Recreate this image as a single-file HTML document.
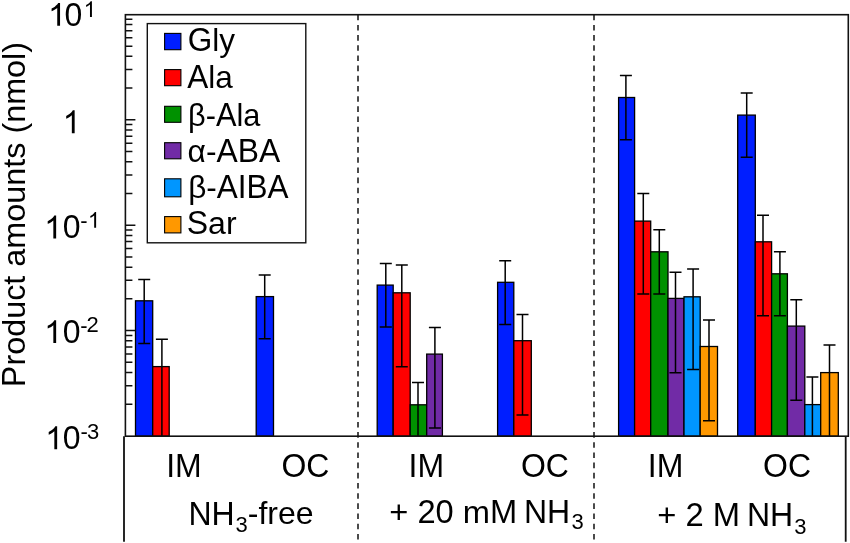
<!DOCTYPE html>
<html><head><meta charset="utf-8"><style>
html,body{margin:0;padding:0;background:#fff;}
body{width:850px;height:543px;overflow:hidden;}
svg{display:block;will-change:transform;}
text{font-family:"Liberation Sans",sans-serif;fill:#000;}
</style></head><body>
<svg width="850" height="543" viewBox="0 0 850 543">
<rect x="135.50" y="300.80" width="17.20" height="135.40" fill="#001eff" stroke="#000" stroke-width="1.3"/>
<rect x="152.70" y="366.60" width="16.50" height="69.60" fill="#ff0000" stroke="#000" stroke-width="1.3"/>
<rect x="256.20" y="296.60" width="17.30" height="139.60" fill="#001eff" stroke="#000" stroke-width="1.3"/>
<rect x="377.20" y="285.10" width="16.00" height="151.10" fill="#001eff" stroke="#000" stroke-width="1.3"/>
<rect x="393.20" y="292.80" width="17.00" height="143.40" fill="#ff0000" stroke="#000" stroke-width="1.3"/>
<rect x="410.20" y="404.80" width="16.50" height="31.40" fill="#009100" stroke="#000" stroke-width="1.3"/>
<rect x="426.70" y="354.10" width="15.70" height="82.10" fill="#712ba6" stroke="#000" stroke-width="1.3"/>
<rect x="497.60" y="282.30" width="16.20" height="153.90" fill="#001eff" stroke="#000" stroke-width="1.3"/>
<rect x="513.80" y="340.70" width="17.50" height="95.50" fill="#ff0000" stroke="#000" stroke-width="1.3"/>
<rect x="618.60" y="97.50" width="16.00" height="338.70" fill="#001eff" stroke="#000" stroke-width="1.3"/>
<rect x="634.60" y="221.10" width="16.10" height="215.10" fill="#ff0000" stroke="#000" stroke-width="1.3"/>
<rect x="650.70" y="251.80" width="17.30" height="184.40" fill="#009100" stroke="#000" stroke-width="1.3"/>
<rect x="668.00" y="298.40" width="16.00" height="137.80" fill="#712ba6" stroke="#000" stroke-width="1.3"/>
<rect x="684.00" y="296.80" width="16.20" height="139.40" fill="#0096ff" stroke="#000" stroke-width="1.3"/>
<rect x="700.20" y="346.50" width="17.30" height="89.70" fill="#ff9800" stroke="#000" stroke-width="1.3"/>
<rect x="737.70" y="115.10" width="17.60" height="321.10" fill="#001eff" stroke="#000" stroke-width="1.3"/>
<rect x="755.30" y="241.80" width="16.30" height="194.40" fill="#ff0000" stroke="#000" stroke-width="1.3"/>
<rect x="771.60" y="273.80" width="15.80" height="162.40" fill="#009100" stroke="#000" stroke-width="1.3"/>
<rect x="787.40" y="326.10" width="17.40" height="110.10" fill="#712ba6" stroke="#000" stroke-width="1.3"/>
<rect x="804.80" y="404.60" width="15.90" height="31.60" fill="#0096ff" stroke="#000" stroke-width="1.3"/>
<rect x="820.70" y="372.60" width="17.60" height="63.60" fill="#ff9800" stroke="#000" stroke-width="1.3"/>
<path d="M144.20 279.40V343.50M138.20 279.40H150.20M138.20 343.50H150.20" stroke="#000" stroke-width="1.5" fill="none"/>
<path d="M161.90 339.20V436.20M155.90 339.20H167.90" stroke="#000" stroke-width="1.5" fill="none"/>
<path d="M264.70 275.00V338.80M258.70 275.00H270.70M258.70 338.80H270.70" stroke="#000" stroke-width="1.5" fill="none"/>
<path d="M385.80 263.50V327.10M379.80 263.50H391.80M379.80 327.10H391.80" stroke="#000" stroke-width="1.5" fill="none"/>
<path d="M401.80 264.90V366.70M395.80 264.90H407.80M395.80 366.70H407.80" stroke="#000" stroke-width="1.5" fill="none"/>
<path d="M418.00 382.60V436.20M412.00 382.60H424.00" stroke="#000" stroke-width="1.5" fill="none"/>
<path d="M434.90 327.40V428.00M428.90 327.40H440.90M428.90 428.00H440.90" stroke="#000" stroke-width="1.5" fill="none"/>
<path d="M505.20 260.70V324.50M499.20 260.70H511.20M499.20 324.50H511.20" stroke="#000" stroke-width="1.5" fill="none"/>
<path d="M522.50 314.40V414.90M516.50 314.40H528.50M516.50 414.90H528.50" stroke="#000" stroke-width="1.5" fill="none"/>
<path d="M625.90 75.60V139.70M619.90 75.60H631.90M619.90 139.70H631.90" stroke="#000" stroke-width="1.5" fill="none"/>
<path d="M643.30 193.60V294.00M637.30 193.60H649.30M637.30 294.00H649.30" stroke="#000" stroke-width="1.5" fill="none"/>
<path d="M659.30 229.70V294.00M653.30 229.70H665.30M653.30 294.00H665.30" stroke="#000" stroke-width="1.5" fill="none"/>
<path d="M675.50 272.20V372.80M669.50 272.20H681.50M669.50 372.80H681.50" stroke="#000" stroke-width="1.5" fill="none"/>
<path d="M693.10 269.10V369.60M687.10 269.10H699.10M687.10 369.60H699.10" stroke="#000" stroke-width="1.5" fill="none"/>
<path d="M709.00 320.10V420.80M703.00 320.10H715.00M703.00 420.80H715.00" stroke="#000" stroke-width="1.5" fill="none"/>
<path d="M746.70 93.10V157.30M740.70 93.10H752.70M740.70 157.30H752.70" stroke="#000" stroke-width="1.5" fill="none"/>
<path d="M763.00 215.20V315.80M757.00 215.20H769.00M757.00 315.80H769.00" stroke="#000" stroke-width="1.5" fill="none"/>
<path d="M779.90 251.80V315.80M773.90 251.80H785.90M773.90 315.80H785.90" stroke="#000" stroke-width="1.5" fill="none"/>
<path d="M796.30 299.70V400.20M790.30 299.70H802.30M790.30 400.20H802.30" stroke="#000" stroke-width="1.5" fill="none"/>
<path d="M812.40 376.90V436.20M806.40 376.90H818.40" stroke="#000" stroke-width="1.5" fill="none"/>
<path d="M829.50 344.90V436.20M823.50 344.90H835.50" stroke="#000" stroke-width="1.5" fill="none"/>
<line x1="358.0" y1="14.7" x2="358.0" y2="540.5" stroke="#111" stroke-width="1.5" stroke-dasharray="5.6 4.58"/>
<line x1="594.0" y1="14.7" x2="594.0" y2="540.5" stroke="#111" stroke-width="1.5" stroke-dasharray="5.6 4.58"/>
<path d="M125.40 404.24h7M125.40 385.69h7M125.40 372.52h7M125.40 362.31h7M125.40 353.96h7M125.40 346.91h7M125.40 340.79h7M125.40 335.40h7M125.40 330.58h10M125.40 298.85h7M125.40 280.30h7M125.40 267.13h7M125.40 256.92h7M125.40 248.57h7M125.40 241.52h7M125.40 235.40h7M125.40 230.01h7M125.40 225.19h10M125.40 193.46h7M125.40 174.91h7M125.40 161.74h7M125.40 151.53h7M125.40 143.18h7M125.40 136.13h7M125.40 130.01h7M125.40 124.62h7M125.40 119.80h10M125.40 88.07h7M125.40 69.52h7M125.40 56.35h7M125.40 46.14h7M125.40 37.79h7M125.40 30.74h7M125.40 24.62h7M125.40 19.23h7" stroke="#111" stroke-width="1.5" fill="none"/>
<rect x="125.4" y="14.7" width="722.90" height="421.50" fill="none" stroke="#111" stroke-width="1.6"/>
<path d="M124 436.2V541.7M845.7 436.2V541.7" stroke="#111" stroke-width="1.8" fill="none"/>
<rect x="147.3" y="23.6" width="158.5" height="219.2" fill="#fff" stroke="#111" stroke-width="1.4"/>
<rect x="164.6" y="33.40" width="16.3" height="16.30" fill="#001eff" stroke="#000" stroke-width="1.1"/>
<rect x="164.6" y="69.60" width="16.3" height="16.10" fill="#ff0000" stroke="#000" stroke-width="1.1"/>
<rect x="164.6" y="106.30" width="16.3" height="16.00" fill="#009100" stroke="#000" stroke-width="1.1"/>
<rect x="164.6" y="142.70" width="16.3" height="16.10" fill="#712ba6" stroke="#000" stroke-width="1.1"/>
<rect x="164.6" y="178.80" width="16.3" height="18.00" fill="#0096ff" stroke="#000" stroke-width="1.1"/>
<rect x="164.6" y="216.60" width="16.3" height="16.30" fill="#ff9800" stroke="#000" stroke-width="1.1"/>
<text transform="translate(166.20 476.70) scale(1.000 1.040)" font-size="32">IM</text>
<text transform="translate(281.50 476.50) scale(1.000 1.040)" font-size="32">OC</text>
<text transform="translate(408.60 476.70) scale(1.000 1.040)" font-size="32">IM</text>
<text transform="translate(520.90 476.50) scale(1.000 1.040)" font-size="32">OC</text>
<text transform="translate(647.80 476.70) scale(1.000 1.040)" font-size="32">IM</text>
<text transform="translate(763.10 476.50) scale(1.000 1.040)" font-size="32">OC</text>
<text transform="translate(188.40 524.50) scale(1.000 1.040)" font-size="32">NH</text>
<text transform="translate(235.50 532.00) scale(1.000 1.040)" font-size="22">3</text>
<text transform="translate(247.80 524.30) scale(1.000 1.000)" font-size="32">-</text>
<text transform="translate(258.46 524.30) scale(1.000 1.000)" font-size="32">free</text>
<text transform="translate(389.30 523.40) scale(1.021 1.000)" font-size="32">+</text>
<text transform="translate(417.45 523.40) scale(1.021 1.040)" font-size="32">20</text>
<text transform="translate(462.85 523.40) scale(1.021 1.000)" font-size="32">m</text>
<text transform="translate(490.06 523.40) scale(1.021 1.040)" font-size="32">M</text>
<text transform="translate(523.90 523.00) scale(1.000 1.040)" font-size="32">NH</text>
<text transform="translate(571.60 529.20) scale(1.000 1.040)" font-size="22">3</text>
<text transform="translate(657.20 526.10) scale(1.024 1.000)" font-size="32">+</text>
<text transform="translate(685.43 526.10) scale(1.024 1.040)" font-size="32">2</text>
<text transform="translate(712.75 526.10) scale(1.024 1.040)" font-size="32">M</text>
<text transform="translate(746.90 525.90) scale(1.000 1.040)" font-size="32">NH</text>
<text transform="translate(794.20 533.50) scale(1.000 1.040)" font-size="22">3</text>
<text transform="translate(187.80 50.70) scale(1.000 1.040)" font-size="31.5">G</text>
<text transform="translate(212.30 50.70) scale(1.000 1.000)" font-size="31.5">ly</text>
<text transform="translate(187.20 87.70) scale(1.000 1.040)" font-size="31.5">A</text>
<text transform="translate(208.21 87.70) scale(1.000 1.000)" font-size="31.5">la</text>
<text transform="translate(188.00 126.00) scale(0.976 1.000)" font-size="31.5">β-</text>
<text transform="translate(215.92 126.00) scale(0.976 1.040)" font-size="31.5">A</text>
<text transform="translate(236.43 126.00) scale(0.976 1.000)" font-size="31.5">la</text>
<text transform="translate(187.50 162.10) scale(1.010 1.000)" font-size="31.5">α-</text>
<text transform="translate(216.49 162.10) scale(1.010 1.040)" font-size="31.5">ABA</text>
<text transform="translate(188.20 198.30) scale(1.000 1.000)" font-size="31.5">β-</text>
<text transform="translate(216.81 198.30) scale(1.000 1.040)" font-size="31.5">AIBA</text>
<text transform="translate(186.70 234.10) scale(1.017 1.040)" font-size="31.5">S</text>
<text transform="translate(208.07 234.10) scale(1.017 1.000)" font-size="31.5">ar</text>
<text transform="translate(64.50 25.80) scale(1.000 1.040)" font-size="32">0</text>
<text transform="translate(62.80 238.40) scale(1.000 1.040)" font-size="32">0</text>
<text transform="translate(62.80 343.10) scale(1.000 1.040)" font-size="32">0</text>
<text transform="translate(62.80 449.20) scale(1.000 1.040)" font-size="32">0</text>
<text transform="translate(80.20 227.80) scale(1.000 1.000)" font-size="22">-</text>
<text transform="translate(80.20 332.80) scale(1.000 1.000)" font-size="22">-</text>
<text transform="translate(80.40 439.00) scale(1.000 1.000)" font-size="22">-</text>
<text transform="translate(86.50 332.20) scale(1.000 1.040)" font-size="22">2</text>
<text transform="translate(87.00 438.60) scale(1.000 1.040)" font-size="22">3</text>
<path transform="translate(48.13 25.80) scale(0.01562 -0.01562)" d="M763 0L583 0L583 1147Q518 1085 465 1054Q412 1023 359 992Q306 961 222 930L222 1104Q373 1175 429.5 1225.5Q486 1276 542.5 1326.5Q599 1377 646 1466L763 1466Z"/>
<path transform="translate(83.72 16.90) scale(0.01074 -0.01074)" d="M763 0L583 0L583 1147Q518 1085 465 1054Q412 1023 359 992Q306 961 222 930L222 1104Q373 1175 429.5 1225.5Q486 1276 542.5 1326.5Q599 1377 646 1466L763 1466Z"/>
<path transform="translate(62.73 133.20) scale(0.01562 -0.01562)" d="M763 0L583 0L583 1147Q518 1085 465 1054Q412 1023 359 992Q306 961 222 930L222 1104Q373 1175 429.5 1225.5Q486 1276 542.5 1326.5Q599 1377 646 1466L763 1466Z"/>
<path transform="translate(44.23 238.40) scale(0.01562 -0.01562)" d="M763 0L583 0L583 1147Q518 1085 465 1054Q412 1023 359 992Q306 961 222 930L222 1104Q373 1175 429.5 1225.5Q486 1276 542.5 1326.5Q599 1377 646 1466L763 1466Z"/>
<path transform="translate(87.92 227.80) scale(0.01074 -0.01074)" d="M763 0L583 0L583 1147Q518 1085 465 1054Q412 1023 359 992Q306 961 222 930L222 1104Q373 1175 429.5 1225.5Q486 1276 542.5 1326.5Q599 1377 646 1466L763 1466Z"/>
<path transform="translate(44.23 343.10) scale(0.01562 -0.01562)" d="M763 0L583 0L583 1147Q518 1085 465 1054Q412 1023 359 992Q306 961 222 930L222 1104Q373 1175 429.5 1225.5Q486 1276 542.5 1326.5Q599 1377 646 1466L763 1466Z"/>
<path transform="translate(45.23 449.20) scale(0.01562 -0.01562)" d="M763 0L583 0L583 1147Q518 1085 465 1054Q412 1023 359 992Q306 961 222 930L222 1104Q373 1175 429.5 1225.5Q486 1276 542.5 1326.5Q599 1377 646 1466L763 1466Z"/>
<text transform="translate(25.1 384.1) rotate(-90) translate(-3.03 0.00) scale(1.011 1.040)" font-size="32">P</text>
<text transform="translate(25.1 384.1) rotate(-90) translate(18.55 0.00) scale(1.011 1.000)" font-size="32">roduct</text>
<text transform="translate(25.1 384.1) rotate(-90) translate(117.45 0.00) scale(1.011 1.000)" font-size="32">amounts</text>
<text transform="translate(25.1 384.1) rotate(-90) translate(250.52 0.00) scale(1.011 1.000)" font-size="32">(</text>
<text transform="translate(25.1 384.1) rotate(-90) translate(261.30 0.00) scale(1.011 1.000)" font-size="32">nmol</text>
<text transform="translate(25.1 384.1) rotate(-90) translate(331.42 0.00) scale(1.011 1.000)" font-size="32">)</text>
</svg>
</body></html>
